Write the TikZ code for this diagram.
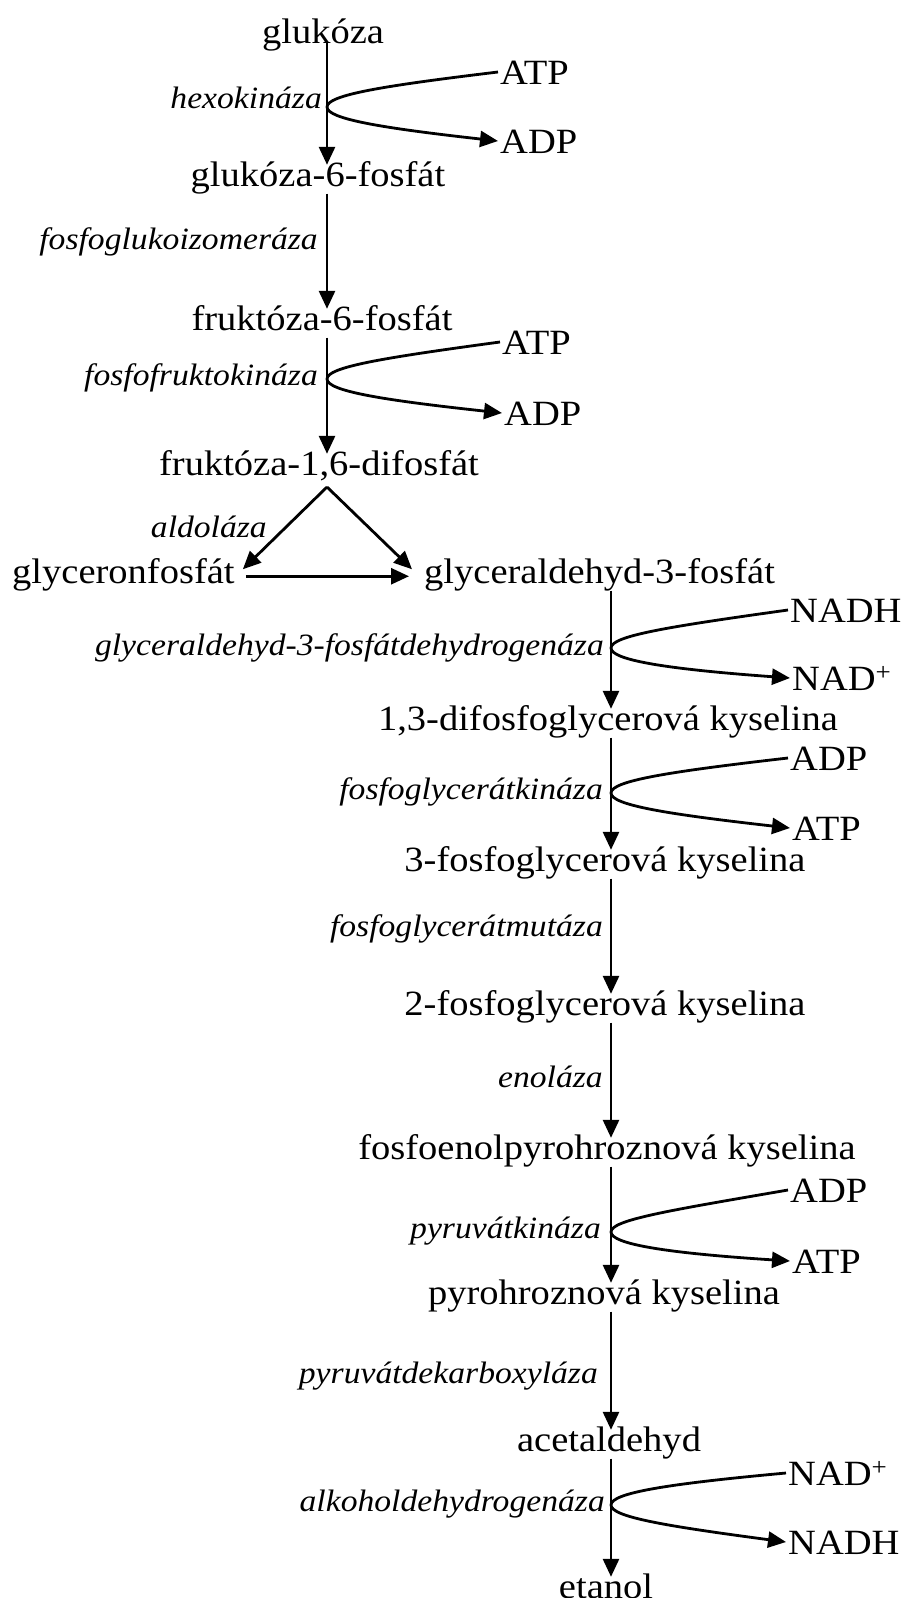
\documentclass[tikz,border=0pt]{standalone}
\usepackage{fontspec}
\setmainfont{Liberation Serif}[FakeStretch=1.085]
\usetikzlibrary{arrows.meta,calc}
\newcommand\mainsz{\fontsize{35.5pt}{40pt}\selectfont}
\newcommand\enzsz{\fontsize{31pt}{36pt}\selectfont\itshape}
\begin{document}
\begin{tikzpicture}[x=1pt,y=-1pt,
  chem/.style={font=\mainsz, inner sep=0pt, text height=21pt, text depth=7.5pt, anchor=base},
  enz/.style={font=\enzsz, inner sep=0pt, anchor=base east},
  side/.style={font=\mainsz, inner sep=2pt, text height=24pt, text depth=0pt, anchor=west},
  arr/.style={line width=2.8pt, -{Triangle[length=18pt,width=16pt]}},
  sarr/.style={line width=2.8pt, -{Triangle[length=18pt,width=16pt]}},
  ]
\useasboundingbox (0,0) rectangle (907,1598);
\coordinate (c1) at (327,0);
\coordinate (c2) at (611,0);
% main chain
\node[chem] (g0) at (323,43) {glukóza};
\node[chem] (g1) at (318,186) {glukóza-6-fosfát};
\node[chem] (g2) at (322,330) {fruktóza-6-fosfát};
\node[chem] (g3) at (319,475) {fruktóza-1,6-difosfát};
\node[chem, anchor=base west] (gp) at (12,583) {glyceronfosfát};
\node[chem, anchor=base west] (ga) at (424,583) {glyceraldehyd-3-fosfát};
\node[chem] (k1) at (608,730) {1,3-difosfoglycerová kyselina};
\node[chem] (k2) at (605,871) {3-fosfoglycerová kyselina};
\node[chem] (k3) at (605,1015) {2-fosfoglycerová kyselina};
\node[chem] (k4) at (607,1159) {fosfoenolpyrohroznová kyselina};
\node[chem] (k5) at (604,1304) {pyrohroznová kyselina};
\node[chem] (k6) at (609,1451) {acetaldehyd};
\node[chem] (k7) at (606,1598) {etanol};
% enzymes
\node[enz] (e1) at (322,108) {hexokináza};
\node[enz] (e2) at (318,249) {fosfoglukoizomeráza};
\node[enz] (e3) at (318,385) {fosfofruktokináza};
\node[enz] (e4) at (267,537) {aldoláza};
\node[enz] (e5) at (604,655) {glyceraldehyd-3-fosfátdehydrogenáza};
\node[enz] (e6) at (603,799) {fosfoglycerátkináza};
\node[enz] (e7) at (603,936) {fosfoglycerátmutáza};
\node[enz] (e8) at (603,1087) {enoláza};
\node[enz] (e9) at (601,1238) {pyruvátkináza};
\node[enz] (e10) at (598,1383) {pyruvátdekarboxyláza};
\node[enz] (e11) at (605,1511) {alkoholdehydrogenáza};
% side substances
\node[side] (s1a) at (498,72) {ATP};
\node[side] (s1b) at (498,141) {ADP};
\node[side] (s2a) at (500,342) {ATP};
\node[side] (s2b) at (502,413) {ADP};
\node[side] (s3a) at (788,610) {NADH};
\node[side] (s3b) at (790,678) {NAD\textsuperscript{+}};
\node[side] (s4a) at (788,758) {ADP};
\node[side] (s4b) at (790,828) {ATP};
\node[side] (s5a) at (788,1190) {ADP};
\node[side] (s5b) at (790,1261) {ATP};
\node[side] (s6a) at (786,1473) {NAD\textsuperscript{+}};
\node[side] (s6b) at (786,1542) {NADH};
% branch points
\coordinate (b1) at (327,107);
\coordinate (b2) at (327,379);
\coordinate (b3) at (611,648);
\coordinate (b4) at (611,793);
\coordinate (b5) at (611,1232);
\coordinate (b6) at (611,1505);
% vertical arrows
\draw[arr] (g0.base -| c1) -- (g1.north -| c1);
\draw[arr] (g1.south -| c1) -- (g2.north -| c1);
\draw[arr] (g2.south -| c1) -- (g3.north -| c1);
\draw[arr] (ga.south -| c2) -- (k1.north -| c2);
\draw[arr] (k1.south -| c2) -- (k2.north -| c2);
\draw[arr] (k2.south -| c2) -- (k3.north -| c2);
\draw[arr] (k3.south -| c2) -- (k4.north -| c2);
\draw[arr] (k4.south -| c2) -- (k5.north -| c2);
\draw[arr] (k5.south -| c2) -- (k6.north -| c2);
\draw[arr] (k6.south -| c2) -- (k7.north -| c2);
% aldolase triangle
\coordinate (apex) at (327,487);
\draw[arr] (apex) -- ($(gp.east)+(8,-7)$);
\draw[arr] (apex) -- ($(ga.west)+(-12,-7)$);
\draw[arr] ($(gp.east)+(11,0)$) -- ($(ga.west)+(-15,0)$);
% side branches
\foreach \b/\u/\l in {b1/s1a/s1b, b2/s2a/s2b, b3/s3a/s3b, b4/s4a/s4b, b5/s5a/s5b, b6/s6a/s6b}{
  \draw[sarr] (\u.west) .. controls ($(\b)+(55,-21)$) and ($(\b)+(0,-12)$) .. (\b)
     .. controls ($(\b)+(0,12)$) and ($(\b)+(55,21)$) .. (\l.west);
}
\end{tikzpicture}
\end{document}
